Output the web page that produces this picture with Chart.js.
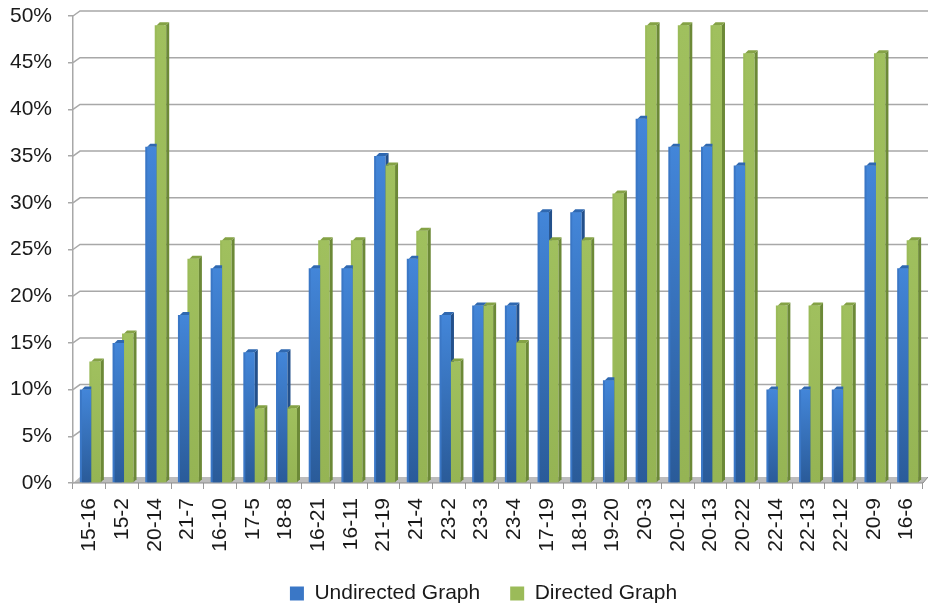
<!DOCTYPE html>
<html>
<head>
<meta charset="utf-8">
<title>Undirected vs Directed Graph</title>
<script src="https://cdn.jsdelivr.net/npm/chart.js@4.4.1/dist/chart.umd.min.js"></script>
<style>
  html, body { margin: 0; padding: 0; background: #fff; }
  #wrap { width: 928px; height: 609px; }
</style>
</head>
<body>
<div id="wrap"><canvas id="chart"></canvas></div>
<script>
// Node pairs and the share (%) for each graph type
const pairs = ['15-16', '15-2', '20-14', '21-7', '16-10', '17-5', '18-8', '16-21', '16-11',
  '21-19', '21-4', '23-2', '23-3', '23-4', '17-19', '18-19', '19-20', '20-3', '20-12',
  '20-13', '20-22', '22-14', '22-13', '22-12', '20-9', '16-6'];
const undirected = [10, 15, 36, 18, 23, 14, 14, 23, 23, 35, 24, 18, 19, 19, 29, 29, 11, 39, 36, 36, 34, 10, 10, 10, 34, 23];
const directed = [13, 16, 49, 24, 26, 8, 8, 26, 26, 34, 27, 13, 19, 15, 26, 26, 31, 49, 49, 49, 46, 19, 19, 19, 46, 26];
const percentTicks = [0, 5, 10, 15, 20, 25, 30, 35, 40, 45, 50];

const FONT = 'Liberation Sans, Arial, sans-serif';
const DEPTH = 3;                 // bar bevel
const WALL_X = 7, WALL_Y = 5;    // back wall offset
const SHIFT = 2;                 // bars sit a little right of the category centre

// face colours per dataset: front top/bottom, side, top
const faces = [
  { top: '#4386d9', bottom: '#2a5b99', side: '#23508b', cap: '#2f68b0' },
  { top: '#a0c05e', bottom: '#95b454', side: '#6c8937', cap: '#84a245' }
];

// Fake 3D: back wall grid, floor, bevelled bars
const depthPlugin = {
  id: 'depth',
  beforeLayout(chart) {
    const legend = chart.legend;
    if (legend && !legend._tight) {
      const fit = legend.fit;
      legend.fit = function () {
        fit.call(this);
        this.height -= 5;
      };
      legend._tight = true;
    }
  },
  afterLayout(chart) {
    if (chart.legend) {
      chart.legend.left += 22;
      chart.legend.right += 22;
    }
  },
  beforeDatasetsDraw(chart) {
    const { ctx, chartArea: a, scales: { y } } = chart;
    ctx.save();
    // back wall grid lines with the short connector from the front axis
    ctx.strokeStyle = '#a8a8a8';
    ctx.lineWidth = 1.5;
    y.ticks.forEach(t => {
      if (t.value === 0) return;
      const py = y.getPixelForValue(t.value);
      ctx.beginPath();
      ctx.moveTo(a.left, py);
      ctx.lineTo(a.left + WALL_X, py - WALL_Y);
      ctx.lineTo(a.right + 5, py - WALL_Y);
      ctx.stroke();
    });
    // floor
    ctx.fillStyle = '#bcbcbc';
    ctx.beginPath();
    ctx.moveTo(a.left, a.bottom);
    ctx.lineTo(a.right, a.bottom);
    ctx.lineTo(a.right + 5, a.bottom - 6);
    ctx.lineTo(a.left + WALL_X, a.bottom - 6);
    ctx.closePath();
    ctx.fill();
    ctx.strokeStyle = '#8c8c8c';
    ctx.lineWidth = 1;
    ctx.beginPath();
    ctx.moveTo(a.left, a.bottom);
    ctx.lineTo(a.right, a.bottom);
    ctx.lineTo(a.right + 5, a.bottom - 6);
    ctx.stroke();
    ctx.restore();
  },
  // the bars are repainted here, left series first so the right one covers its side face
  afterDatasetsDraw(chart) {
    const ctx = chart.ctx;
    ctx.save();
    ctx.translate(SHIFT, 0);
    chart.data.datasets.forEach((ds, i) => {
      const f = faces[i];
      chart.getDatasetMeta(i).data.forEach(bar => {
        const { x, y, base, width } = bar.getProps(['x', 'y', 'base', 'width'], true);
        const l = x - width / 2, r = x + width / 2;
        const g = ctx.createLinearGradient(0, y, 0, base);
        g.addColorStop(0, f.top);
        g.addColorStop(1, f.bottom);
        ctx.fillStyle = g;
        ctx.fillRect(l, y, width, base - y);
        // side
        ctx.fillStyle = f.side;
        ctx.beginPath();
        ctx.moveTo(r, y);
        ctx.lineTo(r + DEPTH, y - DEPTH);
        ctx.lineTo(r + DEPTH, base - DEPTH);
        ctx.lineTo(r, base);
        ctx.closePath();
        ctx.fill();
        // top
        ctx.fillStyle = f.cap;
        ctx.beginPath();
        ctx.moveTo(l, y);
        ctx.lineTo(l + DEPTH, y - DEPTH);
        ctx.lineTo(r + DEPTH, y - DEPTH);
        ctx.lineTo(r, y);
        ctx.closePath();
        ctx.fill();
      });
    });
    ctx.restore();
  }
};

new Chart(document.getElementById('chart'), {
  type: 'bar',
  data: {
    labels: pairs,
    datasets: [
      { label: 'Undirected Graph', data: undirected, backgroundColor: '#3a77c6', borderWidth: 0 },
      { label: 'Directed Graph', data: directed, backgroundColor: '#9bbb59', borderWidth: 0 }
    ]
  },
  options: {
    responsive: true,
    maintainAspectRatio: false,
    animation: false,
    layout: { padding: { top: 16, right: 5, left: 0, bottom: 0 } },
    datasets: { bar: { categoryPercentage: 0.58, barPercentage: 1 } },
    plugins: {
      legend: {
        position: 'bottom',
        labels: {
          boxWidth: 14,
          boxHeight: 14,
          padding: 30,
          color: '#1a1a1a',
          font: { family: FONT, size: 21 }
        }
      },
      tooltip: { enabled: false }
    },
    scales: {
      x: {
        grid: { drawOnChartArea: false, tickLength: 6, color: '#999', offset: true },
        border: { display: false },
        ticks: {
          autoSkip: false,
          minRotation: 90,
          maxRotation: 90,
          padding: 9,
          color: '#1a1a1a',
          font: { family: FONT, size: 21 }
        },
        afterFit: scale => {
          scale.height = 70;
          scale.paddingLeft = 0;
          scale.paddingRight = 0;
          scale.paddingTop = 0;
          scale.paddingBottom = 0;
        }
      },
      y: {
        min: percentTicks[0],
        max: percentTicks[percentTicks.length - 1],
        grid: { drawOnChartArea: false, tickLength: 5, color: '#a8a8a8', lineWidth: 1.5 },
        border: { display: true, color: '#a8a8a8', width: 1.5 },
        ticks: {
          stepSize: percentTicks[1] - percentTicks[0],
          padding: 16,
          color: '#1a1a1a',
          font: { family: FONT, size: 21 },
          callback: v => v + '%'
        },
        afterFit: scale => {
          scale.width = 73;
          scale.paddingTop = 0;
          scale.paddingBottom = 0;
        }
      }
    }
  },
  plugins: [depthPlugin]
});
</script>
</body>
</html>
